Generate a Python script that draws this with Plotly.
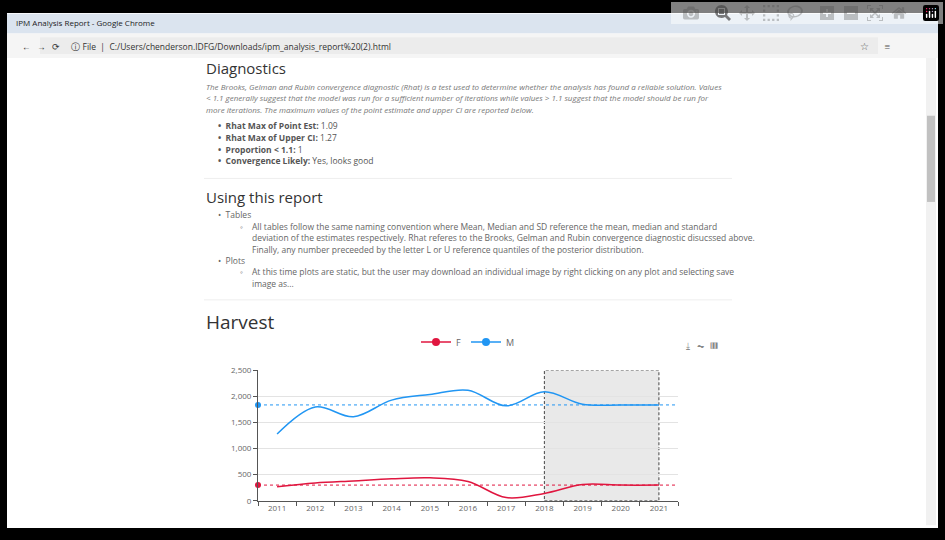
import plotly.graph_objects as go

W, H = 945, 540

years = [2011, 2012, 2013, 2014, 2015, 2016, 2017, 2018, 2019, 2020, 2021]
harvest_m = [1280, 1800, 1610, 1930, 2040, 2120, 1820, 2090, 1850, 1838, 1838]
harvest_f = [270, 340, 380, 420, 440, 370, 60, 140, 310, 300, 300]
mark_m = 1838
mark_f = 299.73
forecast_start, forecast_end = 2018, 2021
ytick_vals = [0, 500, 1000, 1500, 2000, 2500]

RED = "#e0163f"
BLUE = "#2196f3"
GREY_TXT = "#666666"


def px(x):
    return x / W


def py(y):
    return 1 - y / H


fig = go.Figure()

# series
fig.add_trace(go.Scatter(x=years, y=harvest_f, mode="lines", line=dict(color=RED, width=1.5, shape="spline"),
                         showlegend=False, hoverinfo="x+y"))
fig.add_trace(go.Scatter(x=years, y=harvest_m, mode="lines", line=dict(color=BLUE, width=1.5, shape="spline"),
                         showlegend=False, hoverinfo="x+y"))

ann = []

# mark lines (average)
for val, col, lab in [(mark_m, BLUE, "1838"), (mark_f, RED, "299.73")]:
    fig.add_trace(go.Scatter(x=[2010.5, 2021.55], y=[val, val], mode="lines",
                             line=dict(color=col, width=1, dash="dot"), showlegend=False, hoverinfo="skip"))
    fig.add_trace(go.Scatter(x=[2010.5], y=[val], mode="markers", marker=dict(color=col, size=6),
                             showlegend=False, cliponaxis=False, hoverinfo="skip"))
    fig.add_trace(go.Scatter(x=[2021.62], y=[val], mode="markers",
                             marker=dict(color=col, size=9, symbol="triangle-right"),
                             showlegend=False, cliponaxis=False, hoverinfo="skip"))
    ann.append(dict(x=2021.8, y=val, xref="x", yref="y", text=lab, showarrow=False, xanchor="left",
                    font=dict(color=col, size=9, family="Open Sans")))

# legend entries
for name, col in [("F", RED), ("M", BLUE)]:
    fig.add_trace(go.Scatter(x=[None], y=[None], mode="lines+markers", name=name,
                             line=dict(color=col, width=1.5), marker=dict(color=col, size=8)))

# forecast window
fig.add_shape(type="rect", xref="x", yref="y", x0=forecast_start, x1=forecast_end, y0=0, y1=2500,
              fillcolor="#e9e9e9", line=dict(color="#444444", width=1, dash="3px,2px"), layer="below")

shapes = [
    # outer black frame and browser chrome
    dict(type="rect", x0=0, x1=1, y0=0, y1=1, line=dict(color="black", width=14)),
    dict(type="rect", x0=px(7), x1=px(938), y0=py(28), y1=py(8), fillcolor="#dbe4ef", line=dict(width=0)),
    dict(type="rect", x0=px(7), x1=px(938), y0=py(53), y1=py(28), fillcolor="#f5f5f5", line=dict(width=0)),
    dict(type="rect", x0=px(40), x1=px(878), y0=py(49), y1=py(32), fillcolor="#ececec", line=dict(width=0)),
    dict(type="rect", x0=px(926), x1=px(936), y0=py(530), y1=py(53), fillcolor="#f1f1f1", line=dict(width=0)),
    dict(type="rect", x0=px(927), x1=px(935), y0=py(200), y1=py(112), fillcolor="#c1c1c1", line=dict(width=0)),
    # separators
    dict(type="line", x0=px(204), x1=px(732), y0=py(176), y1=py(176), line=dict(color="#eeeeee", width=1)),
    dict(type="line", x0=px(204), x1=px(732), y0=py(300), y1=py(300), line=dict(color="#eeeeee", width=1)),
]
for s in shapes:
    s.update(xref="paper", yref="paper", layer="above" if s.get("line", {}).get("color") == "black" else "below")
    fig.add_shape(**s)


def text(x, y, t, size=9, color=GREY_TXT, italic=False, bold_prefix=None):
    s = t
    if bold_prefix:
        s = "<b>" + bold_prefix + "</b> " + t
    if italic:
        s = "<i>" + s + "</i>"
    ann.append(dict(x=px(x), y=py(y), xref="paper", yref="paper", text=s, showarrow=False,
                    xanchor="left", yanchor="middle", font=dict(size=size, color=color, family="Open Sans")))


text(14, 17, "IPM Analysis Report - Google Chrome", size=8, color="#222222")
text(20, 41, "←   →   ⟳     ⓘ File  |  C:/Users/chenderson.IDFG/Downloads/ipm_analysis_report%20(2).html", size=8.5, color="#333333")
text(858, 41, "☆      ≡", size=10, color="#555555")

text(204, 63, "Diagnostics", size=15, color="#333333")
para = [
    "The Brooks, Gelman and Rubin convergence diagnostic (Rhat) is a test used to determine whether the analysis has found a reliable solution. Values",
    "< 1.1 generally suggest that the model was run for a sufficient number of iterations while values > 1.1 suggest that the model should be run for",
    "more iterations. The maximum values of the point estimate and upper CI are reported below.",
]
for i, line in enumerate(para):
    text(204, 82 + i * 11.6, line, size=8, color="#777777", italic=True)
diag = [("Rhat Max of Point Est:", "1.09"), ("Rhat Max of Upper CI:", "1.27"),
        ("Proportion < 1.1:", "1"), ("Convergence Likely:", "Yes, looks good")]
for i, (k, v) in enumerate(diag):
    text(216, 122 + i * 12, v, size=8.5, color="#555555", bold_prefix="•  " + k)

text(204, 195, "Using this report", size=15, color="#333333")
text(216, 213, "•  Tables", size=8.5)
tab = ["All tables follow the same naming convention where Mean, Median and SD reference the mean, median and standard",
       "deviation of the estimates respectively. Rhat referes to the Brooks, Gelman and Rubin convergence diagnostic disucssed above.",
       "Finally, any number preceeded by the letter L or U reference quantiles of the posterior distribution."]
for i, line in enumerate(tab):
    text(250, 225 + i * 11.8, line, size=8.5)
text(238, 225, "◦", size=8.5)
text(216, 260, "•  Plots", size=8.5)
text(238, 271, "◦", size=8.5)
text(250, 271, "At this time plots are static, but the user may download an individual image by right clicking on any plot and selecting save", size=8.5)
text(250, 283, "image as...", size=8.5)
text(204, 323, "Harvest", size=19, color="#333333")
text(684, 347, "⤓   ⏦   ▥", size=9, color="#888888")

fig.update_layout(
    width=W, height=H, margin=dict(l=0, r=0, t=0, b=0),
    paper_bgcolor="white", plot_bgcolor="white",
    annotations=ann,
    legend=dict(orientation="h", x=px(468), xanchor="center", y=py(343), yanchor="middle",
                font=dict(size=9, color=GREY_TXT, family="Open Sans"), itemwidth=30, bgcolor="rgba(0,0,0,0)"),
    xaxis=dict(domain=[px(258), px(678)], range=[2010.5, 2021.5], tickvals=years, showgrid=False,
               ticks="", showline=True, linecolor="#555555", zeroline=False,
               minor=dict(tickvals=[y - 0.5 for y in years] + [2021.5], ticks="outside", ticklen=4, tickcolor="#555555"),
               tickfont=dict(size=8, color=GREY_TXT, family="Open Sans")),
    yaxis=dict(domain=[py(505), py(372)], range=[0, 2500], tickvals=ytick_vals, tickformat=",",
               showgrid=True, gridcolor="#e3e3e3", showline=True, linecolor="#555555", ticks="outside",
               ticklen=4, tickcolor="#555555", zeroline=False,
               tickfont=dict(size=8, color=GREY_TXT, family="Open Sans")),
)

fig.write_html("out.html", post_script="document.body.style.margin='0';document.body.style.overflow='hidden';")
